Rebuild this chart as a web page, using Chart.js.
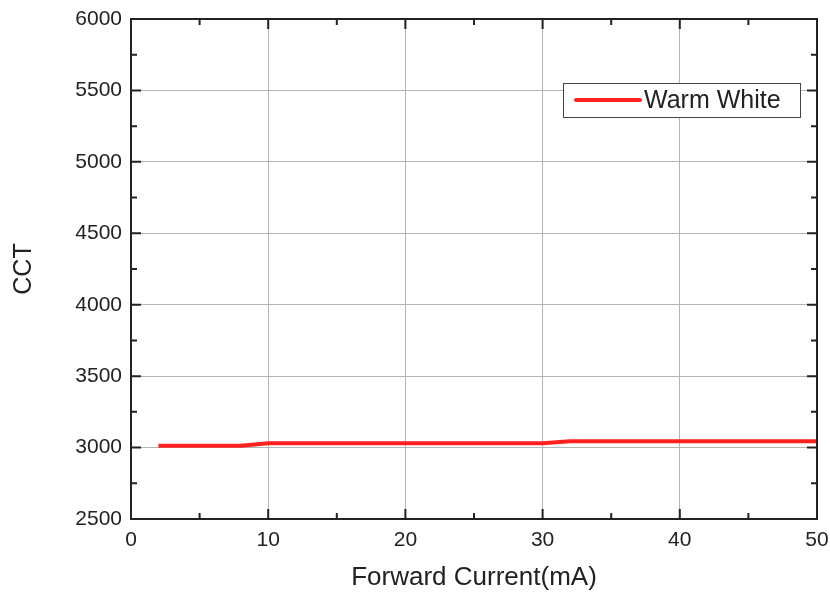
<!DOCTYPE html>
<html>
<head>
<meta charset="utf-8">
<script src="https://cdn.jsdelivr.net/npm/chart.js@4/dist/chart.umd.min.js"></script>
<style>
  html, body { margin: 0; padding: 0; background: #fff; }
  #wrap { width: 830px; height: 597px; }
</style>
</head>
<body>
<div id="wrap"><canvas id="cct"></canvas></div>
<script>
// data
const current = [2, 8, 10, 30, 32, 50];
const warmWhite = [3012, 3012, 3030, 3030, 3045, 3045];
const seriesName = "Warm White";
const xTitle = "Forward Current(mA)";
const yTitle = "CCT";

const fontFam = "'Liberation Sans', Arial, sans-serif";
const ink = "#222";

// inward ticks on all four sides + frame
const frame = {
  id: "frame",
  afterDraw(chart) {
    const { ctx, chartArea: a, scales } = chart;
    const xs = scales.x, ys = scales.y;
    ctx.save();
    ctx.strokeStyle = ink;
    ctx.lineWidth = 2;
    ctx.strokeRect(a.left, a.top, a.right - a.left, a.bottom - a.top);
    ctx.beginPath();
    for (let v = xs.min; v <= xs.max; v += 5) {
      const px = xs.getPixelForValue(v);
      const len = v % 10 === 0 ? 10 : 6;
      ctx.moveTo(px, a.bottom); ctx.lineTo(px, a.bottom - len);
      ctx.moveTo(px, a.top); ctx.lineTo(px, a.top + len);
    }
    for (let v = ys.min; v <= ys.max; v += 250) {
      const py = ys.getPixelForValue(v);
      const len = v % 500 === 0 ? 10 : 6;
      ctx.moveTo(a.left, py); ctx.lineTo(a.left + len, py);
      ctx.moveTo(a.right, py); ctx.lineTo(a.right - len, py);
    }
    ctx.stroke();

    // legend box inside the plot
    const ds = chart.data.datasets[0];
    const bx = a.right - 254, by = a.top + 64, bw = 237, bh = 34;
    ctx.fillStyle = "#fff";
    ctx.fillRect(bx, by, bw, bh);
    ctx.lineWidth = 1;
    ctx.strokeStyle = "#444";
    ctx.strokeRect(bx + 0.5, by + 0.5, bw, bh);
    ctx.strokeStyle = ds.borderColor;
    ctx.lineWidth = 4;
    ctx.lineCap = "round";
    ctx.beginPath();
    ctx.moveTo(bx + 13, by + 17);
    ctx.lineTo(bx + 77, by + 17);
    ctx.stroke();
    ctx.fillStyle = ink;
    ctx.font = "25px " + fontFam;
    ctx.textBaseline = "middle";
    ctx.fillText(ds.label, bx + 81, by + 18);
    ctx.restore();
  }
};

new Chart(document.getElementById("cct"), {
  type: "line",
  data: {
    datasets: [{
      label: seriesName,
      data: current.map((x, i) => ({ x: x, y: warmWhite[i] })),
      borderColor: "#ff2020",
      borderWidth: 4,
      pointRadius: 0,
      tension: 0,
      fill: false
    }]
  },
  options: {
    responsive: true,
    maintainAspectRatio: false,
    animation: false,
    layout: { padding: { top: 19, right: 13, left: 0, bottom: 0 } },
    plugins: {
      legend: { display: false },
      tooltip: { enabled: false }
    },
    scales: {
      x: {
        type: "linear",
        min: 0, max: 50,
        ticks: { stepSize: 10, color: ink, font: { family: fontFam, size: 21 }, padding: 9 },
        grid: {
          color: c => (c.tick.value === 0 || c.tick.value === 50) ? "rgba(0,0,0,0)" : "#b4b4b4",
          lineWidth: 1,
          drawTicks: false
        },
        border: { display: false },
        title: { display: true, text: xTitle, color: ink, font: { family: fontFam, size: 26 }, padding: { top: 10 } },
        afterFit: s => { s.height = 78; s.paddingLeft = 0; s.paddingRight = 0; }
      },
      y: {
        min: 2500, max: 6000,
        ticks: {
          stepSize: 500, color: ink, font: { family: fontFam, size: 21 }, padding: 9,
          callback: v => String(v)
        },
        grid: {
          color: c => (c.tick.value === 2500 || c.tick.value === 6000) ? "rgba(0,0,0,0)" : "#b4b4b4",
          lineWidth: 1,
          drawTicks: false
        },
        border: { display: false },
        title: { display: true, text: yTitle, color: ink, font: { family: fontFam, size: 25 }, padding: { top: 9, bottom: 30 } },
        afterFit: s => { s.width = 131; s.paddingTop = 0; s.paddingBottom = 0; }
      }
    }
  },
  plugins: [frame]
});
</script>
</body>
</html>
